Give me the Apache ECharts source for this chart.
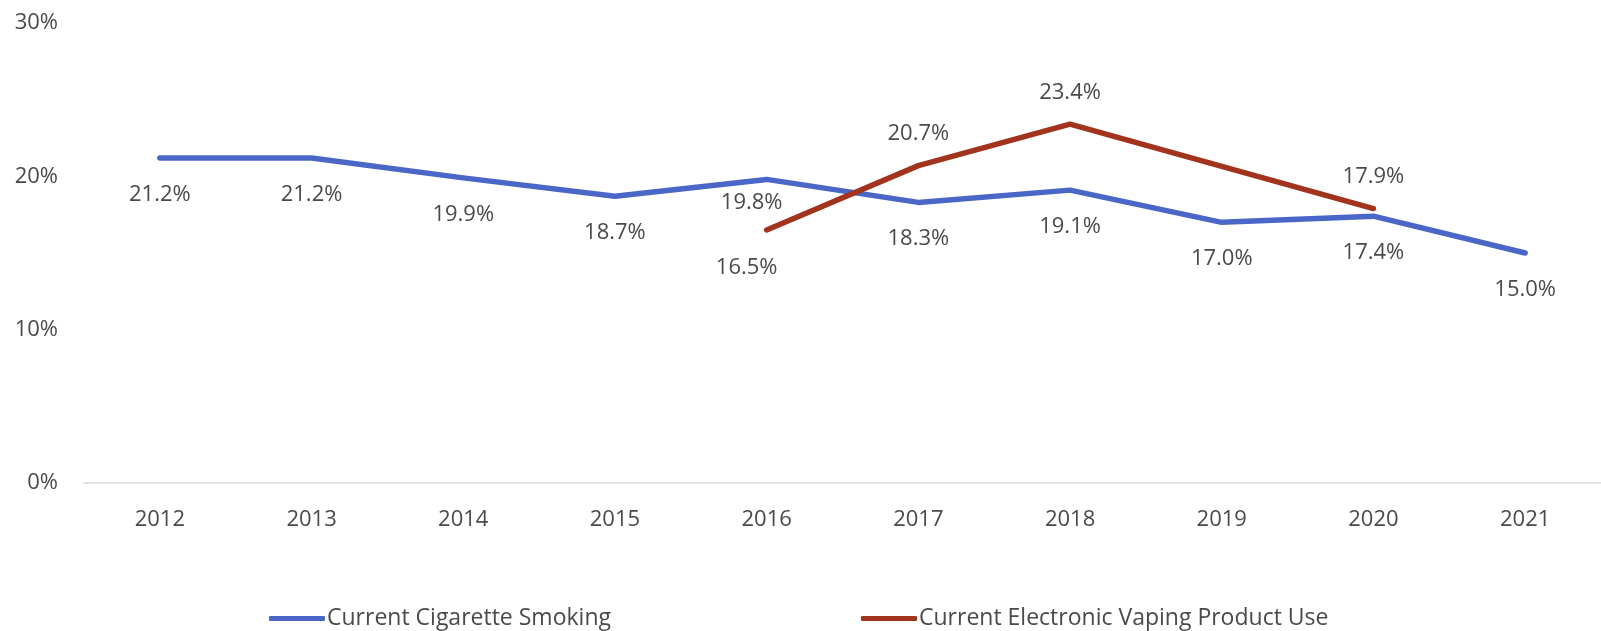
<!DOCTYPE html>
<html>
<head>
<meta charset="utf-8">
<script src="https://cdn.jsdelivr.net/npm/echarts@6/dist/echarts.min.js"></script>
<style>
  html, body { margin: 0; padding: 0; background: #fff; }
  #chart { width: 1601px; height: 631px; }
</style>
</head>
<body>
<div id="chart"></div>
<script>
const years = ['2012', '2013', '2014', '2015', '2016', '2017', '2018', '2019', '2020', '2021']
const cigarette = [21.2, 21.2, 19.9, 18.7, 19.8, 18.3, 19.1, 17.0, 17.4, 15.0]
// no vaping label for 2019, the line just joins 2018 and 2020
const vaping = [null, null, null, null, 16.5, 20.7, 23.4, null, 17.9, null]
const vapingLabelPos = [null, null, null, null, 'bottom', 'top', 'top', null, 'top', null]

const font = 'Open Sans'
const textColor = '#4A4A4A'
const blue = '#4A66C7'
const red = '#A2331D'

let chart = echarts.init(document.getElementById('chart'))

// 2016 labels were nudged left in the original
let cigData = cigarette.map((v, i) => i === 4
  ? { value: v, label: { offset: [-15, -13] } }
  : v)
let vapData = vaping.map((v, i) => {
  if (v === null) return null
  let item = { value: v, label: { position: vapingLabelPos[i], distance: vapingLabelPos[i] === 'top' ? 20 : 25 } }
  if (i === 4) item.label.offset = [-20, 1]
  return item
})

let option = {
  animation: false,
  textStyle: { fontFamily: font },
  grid: {
    top: 23,
    bottom: 148,
    left: 84,
    right: 0
  },
  legend: [
    {
      data: ['Current Cigarette Smoking'],
      left: 269,
      top: 607,
      padding: 0,
      icon: 'roundRect',
      itemWidth: 56,
      itemHeight: 5,
      itemGap: 0,
      textStyle: { color: textColor, fontSize: 23, fontFamily: font, padding: [0, 0, 0, -3] }
    },
    {
      data: ['Current Electronic Vaping Product Use'],
      left: 861,
      top: 607,
      padding: 0,
      icon: 'roundRect',
      itemWidth: 56,
      itemHeight: 5,
      itemGap: 0,
      textStyle: { color: textColor, fontSize: 23, fontFamily: font, padding: [0, 0, 0, -3] }
    }
  ],
  xAxis: {
    type: 'category',
    data: years,
    boundaryGap: true,
    axisLine: { lineStyle: { color: '#D9D9D9', width: 1.5 } },
    axisTick: { show: false },
    axisLabel: { color: textColor, fontSize: 22, margin: 26 }
  },
  yAxis: {
    type: 'value',
    min: 0,
    max: 30,
    interval: 10,
    axisLine: { show: false },
    axisTick: { show: false },
    splitLine: { show: false },
    axisLabel: {
      color: textColor,
      fontSize: 22,
      margin: 26,
      formatter: '{value}%'
    }
  },
  series: [
    {
      name: 'Current Cigarette Smoking',
      type: 'line',
      data: cigData,
      symbol: 'circle',
      symbolSize: 1,
      color: blue,
      lineStyle: { color: blue, width: 5.5, cap: 'round', join: 'round' },
      label: {
        show: true,
        position: 'bottom',
        distance: 25,
        color: textColor,
        fontSize: 22,
        formatter: p => p.value.toFixed(1) + '%'
      }
    },
    {
      name: 'Current Electronic Vaping Product Use',
      type: 'line',
      connectNulls: true,
      data: vapData,
      symbol: 'circle',
      symbolSize: 1,
      color: red,
      lineStyle: { color: red, width: 5.5, cap: 'round', join: 'round' },
      label: {
        show: true,
        color: textColor,
        fontSize: 22,
        formatter: p => p.value.toFixed(1) + '%'
      }
    }
  ]
}
chart.setOption(option)
window.addEventListener('resize', () => chart.resize())
</script>
</body>
</html>
